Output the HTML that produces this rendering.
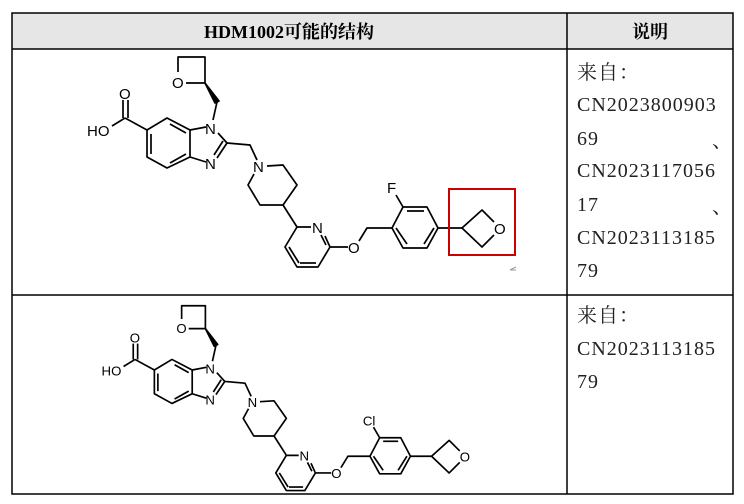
<!DOCTYPE html>
<html><head><meta charset="utf-8"><style>
body{margin:0;width:744px;height:504px;background:#fff;overflow:hidden}
svg{position:absolute;left:0;top:0}
.t{font-family:"Liberation Serif","Noto Serif CJK SC",serif;font-size:20px;fill:#222;letter-spacing:1px}
.a{font-family:"Liberation Sans",sans-serif;font-size:15px;fill:#000}
</style></head><body>
<svg width="744" height="504" viewBox="0 0 744 504">
<rect x="12" y="13" width="721" height="36" fill="#e6e6e6"/>
<g stroke="#000" stroke-width="1.5" fill="none">
<rect x="12" y="13" width="721" height="481"/>
<line x1="12" y1="49" x2="733" y2="49"/>
<line x1="12" y1="295" x2="733" y2="295"/>
<line x1="567" y1="13" x2="567" y2="494"/>
</g>
<text x="289" y="38" text-anchor="middle" font-family="Liberation Serif,Noto Serif CJK SC,serif" font-weight="bold" font-size="18">HDM1002可能的结构</text>
<text x="650" y="38" text-anchor="middle" font-family="Liberation Serif,Noto Serif CJK SC,serif" font-weight="bold" font-size="18">说明</text>
<g class="t">
<text x="577" y="79">来自：</text>
<text x="577" y="111">CN2023800903</text>
<text x="577" y="145">69</text><text x="712" y="147">、</text>
<text x="577" y="177">CN2023117056</text>
<text x="577" y="211">17</text><text x="712" y="213">、</text>
<text x="577" y="244">CN2023113185</text>
<text x="577" y="277">79</text>
<text x="577" y="322">来自：</text>
<text x="577" y="355">CN2023113185</text>
<text x="577" y="388">79</text>
</g>

<g>
<g stroke="#000" stroke-width="1.7" fill="none" stroke-linejoin="round">
<polyline points="186,83 205,83 205,57 178,57 178,72"/>
<polygon points="205,83 215,103 219,101" fill="#000"/>
<line x1="217" y1="102" x2="213" y2="120"/>
<polygon points="167,118 190,130 190,157 167,168 147,157 147,130"/>
<line x1="170" y1="124" x2="186" y2="133"/><line x1="186" y1="154" x2="170" y2="163"/><line x1="151" y1="154" x2="151" y2="134"/>
<line x1="190" y1="130" x2="206" y2="127"/><line x1="218" y1="133" x2="227" y2="143"/>
<line x1="227" y1="143" x2="217" y2="158"/><line x1="223" y1="141" x2="214" y2="155"/><line x1="206" y1="162" x2="190" y2="157"/>
<line x1="147" y1="130" x2="125" y2="118"/><line x1="125" y1="118" x2="112" y2="126"/>
<line x1="123" y1="118" x2="123" y2="100"/><line x1="128" y1="118" x2="128" y2="100"/>
<polyline points="227,143 250,145 257,160"/>
<polyline points="267,166 283,165 297,185 283,205 260,205 248,185 254,174"/>
<line x1="283" y1="205" x2="297" y2="227"/>
<polyline points="311,227 297,227 285,247 297,267 318,267 330,247 325,236"/>
<line x1="289" y1="247" x2="299" y2="263"/><line x1="300" y1="263" x2="316" y2="263"/><line x1="326" y1="245" x2="321" y2="235"/>
<line x1="330" y1="247" x2="348" y2="247"/><polyline points="359,241 367,228 392,228"/>
<polygon points="392,228 403,207 427,207 438,228 427,248 403,248"/>
<line x1="407" y1="211" x2="424" y2="211"/><line x1="434" y1="228" x2="424" y2="244"/><line x1="407" y1="244" x2="396" y2="228"/>
<line x1="403" y1="207" x2="396" y2="195"/>
<line x1="438" y1="228" x2="462" y2="228"/>
<polyline points="494,222 482,210 462,228 482,247 494,235"/>
</g>
<text class="a" x="172" y="88">O</text>
<text class="a" x="205" y="134">N</text>
<text class="a" x="205" y="169">N</text>
<text class="a" x="119" y="99">O</text>
<text class="a" x="87" y="136">HO</text>
<text class="a" x="253" y="172">N</text>
<text class="a" x="312" y="233">N</text>
<text class="a" x="348" y="253">O</text>
<text class="a" x="494" y="234">O</text>
</g>
<text class="a" x="387" y="193">F</text>
<rect x="449" y="189" width="66" height="66" fill="none" stroke="#c00" stroke-width="2"/>
<path d="M510 270 l6 -3 M510 270 h6" stroke="#999" stroke-width="1" fill="none"/>

<g transform="translate(25,255.6) scale(0.88)">
<g stroke="#000" stroke-width="1.9" fill="none" stroke-linejoin="round">
<polyline points="186,83 205,83 205,57 178,57 178,72"/>
<polygon points="205,83 215,103 219,101" fill="#000"/>
<line x1="217" y1="102" x2="213" y2="120"/>
<polygon points="167,118 190,130 190,157 167,168 147,157 147,130"/>
<line x1="170" y1="124" x2="186" y2="133"/><line x1="186" y1="154" x2="170" y2="163"/><line x1="151" y1="154" x2="151" y2="134"/>
<line x1="190" y1="130" x2="206" y2="127"/><line x1="218" y1="133" x2="227" y2="143"/>
<line x1="227" y1="143" x2="217" y2="158"/><line x1="223" y1="141" x2="214" y2="155"/><line x1="206" y1="162" x2="190" y2="157"/>
<line x1="147" y1="130" x2="125" y2="118"/><line x1="125" y1="118" x2="112" y2="126"/>
<line x1="123" y1="118" x2="123" y2="100"/><line x1="128" y1="118" x2="128" y2="100"/>
<polyline points="227,143 250,145 257,160"/>
<polyline points="267,166 283,165 297,185 283,205 260,205 248,185 254,174"/>
<line x1="283" y1="205" x2="297" y2="227"/>
<polyline points="311,227 297,227 285,247 297,267 318,267 330,247 325,236"/>
<line x1="289" y1="247" x2="299" y2="263"/><line x1="300" y1="263" x2="316" y2="263"/><line x1="326" y1="245" x2="321" y2="235"/>
<line x1="330" y1="247" x2="348" y2="247"/><polyline points="359,241 367,228 392,228"/>
<polygon points="392,228 403,207 427,207 438,228 427,248 403,248"/>
<line x1="407" y1="211" x2="424" y2="211"/><line x1="434" y1="228" x2="424" y2="244"/><line x1="407" y1="244" x2="396" y2="228"/>
<line x1="403" y1="207" x2="396" y2="195"/>
<line x1="438" y1="228" x2="462" y2="228"/>
<polyline points="494,222 482,210 462,228 482,247 494,235"/>
</g>
<text class="a" x="172" y="88">O</text>
<text class="a" x="205" y="134">N</text>
<text class="a" x="205" y="169">N</text>
<text class="a" x="119" y="99">O</text>
<text class="a" x="87" y="136">HO</text>
<text class="a" x="253" y="172">N</text>
<text class="a" x="312" y="233">N</text>
<text class="a" x="348" y="253">O</text>
<text class="a" x="494" y="234">O</text>
<text class="a" x="384" y="193">Cl</text>
</g>
</svg>
</body></html>
